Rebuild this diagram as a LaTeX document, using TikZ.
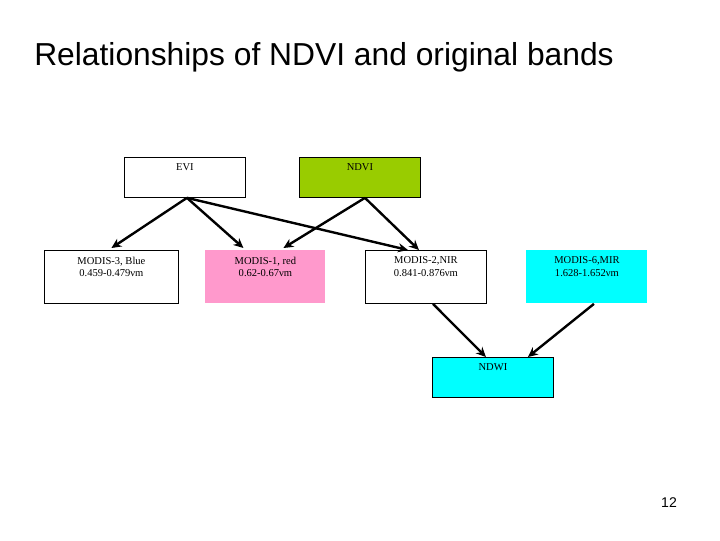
\documentclass[tikz,border=0pt]{standalone}
\usepackage{fontspec}
\setmainfont{Liberation Serif}
\setsansfont{Liberation Sans}
\usepackage{xcolor}
\usepackage{tikz}
\usetikzlibrary{arrows.meta, calc}

\definecolor{ndvigreen}{HTML}{99CC00}
\definecolor{redpink}{HTML}{FF99CC}
\definecolor{aqua}{HTML}{00FFFF}

\begin{document}
\begin{tikzpicture}[
    x=0.025cm,
    y=-0.025cm,
    box/.style={draw=black, line width=0.6pt, minimum width=3.025cm, minimum height=1cm, inner sep=0pt, anchor=north west},
    bandbox/.style={box, minimum height=1.325cm},
    boxtext/.style={anchor=north, inner sep=0pt, yshift=-0.16cm, font=\fontsize{7.5}{8.8}\selectfont, align=center},
    link/.style={-{Stealth[length=7pt, width=6.5pt]}, line width=1.7pt, draw=black}
]
    \useasboundingbox (0,0) rectangle (720,540);

    % --- Title ---
    \node[anchor=west, font=\sffamily\fontsize{22.6}{26}\selectfont, inner sep=0pt] (title) at (34,57) {Relationships of NDVI and original bands};

    % --- Indices ---
    \node[box, fill=white, label={[boxtext]north:EVI}] (evi) at (124,157) {};
    \node[box, fill=ndvigreen, label={[boxtext]north:NDVI}] (ndvi) at (299,157) {};

    % --- MODIS bands ---
    \node[bandbox, fill=white, minimum width=3.35cm, label={[boxtext]north:MODIS-3, Blue\\0.459-0.479νm}] (blue) at (44,250) {};
    \node[bandbox, draw=none, fill=redpink, minimum width=3cm, label={[boxtext]north:MODIS-1, red\\0.62-0.67νm}] (red) at (205,250) {};
    \node[bandbox, fill=white, label={[boxtext]north:MODIS-2,NIR\\0.841-0.876νm}] (nir) at (365,250) {};
    \node[bandbox, draw=none, fill=aqua, label={[boxtext]north:MODIS-6,MIR\\1.628-1.652νm}] (mir) at (526,250) {};

    % --- Water index ---
    \node[box, fill=aqua, label={[boxtext]north:NDWI}] (ndwi) at (432,357) {};

    % --- Links ---
    \draw[link] ($(evi.south)+(2,0)$) -- ($(blue.north)+(0,-2)$);
    \draw[link] ($(evi.south)+(2,0)$) -- ($(red.north)+(-22,-2)$);
    \draw[link] ($(evi.south)+(2,0)$) -- ($(nir.north)+(-18,0)$);
    \draw[link] ($(ndvi.south)+(5,0)$) -- ($(red.north)+(18,-2)$);
    \draw[link] ($(ndvi.south)+(5,0)$) -- ($(nir.north)+(-7,0)$);
    \draw[link] ($(nir.south)+(7,0)$) -- ($(ndwi.north)+(-7,0)$);
    \draw[link] ($(mir.south)+(7,0)$) -- ($(ndwi.north)+(35,0)$);

    % --- Page number ---
    \node[font=\sffamily\fontsize{10}{12}\selectfont, inner sep=0pt] (page) at (669,503) {12};
\end{tikzpicture}
\end{document}
